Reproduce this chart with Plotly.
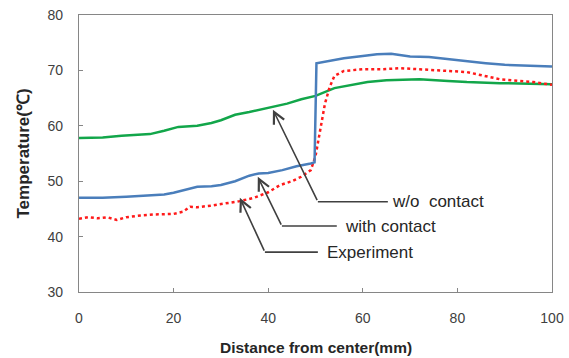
import plotly.graph_objects as go

# Data
blue_x = [0, 5, 10, 15, 18, 20, 22, 25, 28, 30, 33, 36, 38, 40, 43, 46, 49, 49.8, 50.2, 53, 56, 60, 63, 66, 70, 74, 78, 82, 86, 90, 95, 100]
blue_y = [47.0, 47.0, 47.2, 47.5, 47.6, 47.9, 48.3, 49.0, 49.1, 49.3, 50.0, 51.0, 51.4, 51.5, 52.0, 52.7, 53.2, 53.4, 71.3, 71.8, 72.2, 72.6, 72.9, 73.0, 72.5, 72.4, 72.0, 71.6, 71.3, 71.0, 70.8, 70.7]

green_x = [0, 5, 9, 15, 18, 21, 25, 28, 30, 33, 36, 40, 44, 47, 50, 54, 58, 61, 65, 72, 78, 82, 89, 95, 100]
green_y = [57.8, 57.9, 58.2, 58.5, 59.1, 59.8, 60.0, 60.5, 61.0, 62.0, 62.5, 63.2, 64.0, 64.8, 65.4, 66.8, 67.5, 67.9, 68.2, 68.4, 68.1, 67.9, 67.7, 67.6, 67.5]

red_x = [0, 2, 4, 6, 8, 10, 13, 16, 20, 22, 23.5, 25, 28, 31, 34, 37, 40, 42.5, 45, 47, 49, 50, 51, 52, 53, 54, 56, 58, 60, 64, 68, 72, 75, 78, 82, 85, 89, 96, 100]
red_y = [43.2, 43.5, 43.3, 43.5, 43.0, 43.5, 43.8, 44.0, 44.1, 44.5, 45.4, 45.3, 45.6, 46.0, 46.4, 47.0, 48.0, 49.3, 50.0, 50.8, 52.0, 54.5, 59.5, 64.0, 67.0, 69.0, 69.9, 70.1, 70.2, 70.2, 70.4, 70.2, 70.1, 69.9, 69.7, 69.2, 68.4, 67.9, 67.4]

x_ticks = [0, 20, 40, 60, 80, 100]
y_ticks = [30, 40, 50, 60, 70, 80]

x_title = "Distance from center(mm)"
y_title = "Temperature(℃)"

# Callout labels: text, text-start, line y, bend x, tip (x, y)
labels = ["w/o  contact", "with contact", "Experiment"]
label_x = [65.8, 55.9, 52.0]
line_end_x = [65.3, 54.5, 50.5]
label_y = [46.3, 41.9, 37.2]
bend_x = [50.5, 42.9, 39.3]
tip_x = [41.0, 37.8, 34.0]
tip_y = [62.9, 50.8, 47.0]

fig = go.Figure()
fig.add_trace(go.Scatter(x=green_x, y=green_y, mode="lines", line=dict(color="#12A64A", width=2.5), name="w/o contact"))
fig.add_trace(go.Scatter(x=red_x, y=red_y, mode="lines", line=dict(color="#FF1A1A", width=2.5, dash="dot"), name="Experiment"))
fig.add_trace(go.Scatter(x=blue_x, y=blue_y, mode="lines", line=dict(color="#4A7EBB", width=2.5), name="with contact"))

arrow_color = "#404040"
for t, lx, le, ly, bx, tx, ty in zip(labels, label_x, line_end_x, label_y, bend_x, tip_x, tip_y):
    fig.add_shape(type="line", x0=bx, y0=ly, x1=le, y1=ly, xref="x", yref="y",
                  line=dict(color=arrow_color, width=1.6))
    fig.add_annotation(x=tx, y=ty, ax=bx, ay=ly, xref="x", yref="y", axref="x", ayref="y",
                       text="", showarrow=True, arrowhead=5, arrowsize=1.4, arrowwidth=1.6,
                       arrowcolor=arrow_color)
    fig.add_annotation(x=lx, y=ly, xref="x", yref="y", text=t, showarrow=False,
                       xanchor="left", yanchor="middle",
                       font=dict(family="Liberation Sans, Arial", size=17, color="#262626"))

# Axis titles as paper-anchored annotations (plot area: 79..552 x, 15..292 y)
fig.add_annotation(x=0.5, y=-55 / 277, xref="paper", yref="paper", text="<b>" + x_title + "</b>",
                   showarrow=False, xanchor="center", yanchor="middle",
                   font=dict(family="Liberation Sans, Arial", size=15.5, color="#262626"))
fig.add_annotation(x=-56 / 473, y=0.5, xref="paper", yref="paper", text="<b>" + y_title + "</b>",
                   showarrow=False, xanchor="center", yanchor="middle", textangle=-90,
                   font=dict(family="Liberation Sans, Arial", size=17, color="#262626"))

fig.update_layout(
    width=569, height=358,
    margin=dict(l=79, r=17, t=15, b=66),
    paper_bgcolor="white", plot_bgcolor="white",
    showlegend=False,
    font=dict(family="Liberation Sans, Arial", size=14, color="#404040"),
)
fig.update_xaxes(range=[0, 100], tickvals=x_ticks, ticks="inside", ticklen=4, tickcolor="#868686",
                 showline=True, linecolor="#868686", linewidth=1.2, mirror=True, showgrid=False,
                 zeroline=False, ticklabelstandoff=13, automargin=False)
fig.update_yaxes(range=[30, 80], tickvals=y_ticks, ticks="inside", ticklen=4, tickcolor="#868686",
                 showline=True, linecolor="#868686", linewidth=1.2, mirror=True, showgrid=False,
                 zeroline=False, ticklabelstandoff=12, automargin=False)

fig.write_html("out.html")
